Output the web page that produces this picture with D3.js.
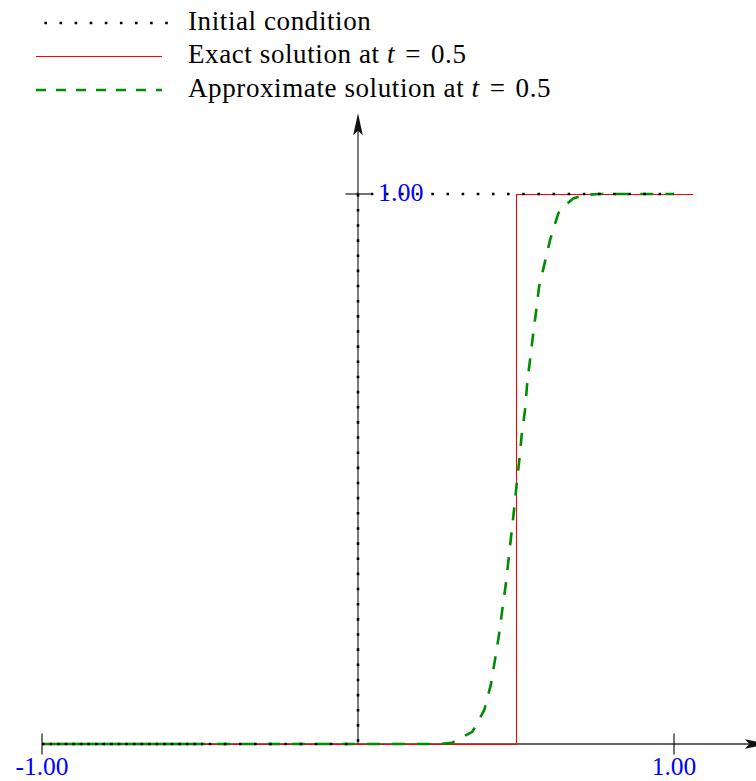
<!DOCTYPE html>
<html><head><meta charset="utf-8">
<script src="https://cdn.jsdelivr.net/npm/d3@7"></script>
<style>html,body{margin:0;padding:0;background:#fff}svg{display:block}</style>
</head><body>
<script>
// ---- data ----
const xTicks = [-1, 1];
const xTickLabels = ["-1.00", "1.00"];
const yTicks = [1];
const yTickLabels = ["1.00"];
const xAxisExtent = [-1, 1.294];
const yAxisExtent = [0, 1.147];

const initialX = [-1, 0, 0, 1];
const initialY = [0, 0, 1, 1];

const exactX = [-1, 0.5, 0.5, 1.06];
const exactY = [0, 0, 1, 1];

const approxX = [-1, 0.26, 0.2965, 0.3617, 0.3997, 0.420, 0.4335, 0.446, 0.4566, 0.4674, 0.476, 0.485, 0.4937, 0.502, 0.5104, 0.518, 0.5285, 0.5358, 0.5443, 0.5547, 0.5655, 0.5728, 0.5918, 0.6076, 0.6339, 0.6478, 0.6813, 0.713, 0.76, 1.0];
const approxY = [0, 0, 0.002, 0.022, 0.062, 0.107, 0.153, 0.198, 0.244, 0.289, 0.333, 0.380, 0.425, 0.471, 0.516, 0.562, 0.607, 0.658, 0.698, 0.747, 0.795, 0.831, 0.877, 0.916, 0.965, 0.976, 0.992, 0.998, 1, 1];

// region near the left boundary where the curves are drawn twice
const overlapX = [-1, -0.49];
const overlapY = [0, 0];

const legendLabels = [
  {text: "Initial condition", math: null},
  {text: "Exact solution at ", math: ["t", "=", "0.5"]},
  {text: "Approximate solution at ", math: ["t", "=", "0.5"]}
];

// ---- drawing ----
const W = 756, H = 781;
const svg = d3.select("body").append("svg").attr("width", W).attr("height", H);

const x = d3.scaleLinear().domain([-1, 1]).range([42, 674]);
const y = d3.scaleLinear().domain([0, 1]).range([744, 194]);

const zip = (a, b) => a.map((v, i) => [v, b[i]]);
const line = d3.line().x(d => x(d[0])).y(d => y(d[1]));

const axisColor = "#333";
// x axis
svg.append("line")
  .attr("x1", x(xAxisExtent[0])).attr("x2", x(xAxisExtent[1]) - 10)
  .attr("y1", y(0)).attr("y2", y(0))
  .attr("stroke", axisColor).attr("stroke-width", 1.3);
// y axis
svg.append("line")
  .attr("x1", x(0)).attr("x2", x(0))
  .attr("y1", y(yAxisExtent[0])).attr("y2", y(yAxisExtent[1]) + 10)
  .attr("stroke", axisColor).attr("stroke-width", 1.3);

const arrow = "M0,0 L-22,-4.8 L-17.5,0 L-22,4.8 Z";
svg.append("path").attr("d", arrow)
  .attr("transform", `translate(${x(xAxisExtent[1])},${y(0)})`)
  .attr("fill", "#111");
svg.append("path").attr("d", arrow)
  .attr("transform", `translate(${x(0)},${y(yAxisExtent[1])}) rotate(-90)`)
  .attr("fill", "#111");

// ticks
svg.selectAll(".xt").data(xTicks).enter().append("line")
  .attr("x1", d => x(d)).attr("x2", d => x(d))
  .attr("y1", y(0) - 10.5).attr("y2", y(0) + 10.5)
  .attr("stroke", "#000").attr("stroke-width", 1.1);
svg.selectAll(".yt").data(yTicks).enter().append("line")
  .attr("y1", d => y(d)).attr("y2", d => y(d))
  .attr("x1", x(0) - 12.5).attr("x2", x(0) + 12.5)
  .attr("stroke", "#000").attr("stroke-width", 1.1);

const labFont = "'Liberation Serif', 'Times New Roman', serif";
svg.selectAll(".xl").data(xTicks).enter().append("text")
  .attr("x", d => x(d)).attr("y", y(0) + 31)
  .attr("text-anchor", "middle")
  .attr("font-family", labFont).attr("font-size", 25.5)
  .attr("fill", "#0000ff")
  .text((d, i) => xTickLabels[i]);
svg.selectAll(".yl").data(yTicks).enter().append("text")
  .attr("x", x(0) + 20).attr("y", d => y(d) + 6.5)
  .attr("font-family", labFont).attr("font-size", 26)
  .attr("fill", "#0000ff")
  .text((d, i) => yTickLabels[i]);

// series
const green = "#008c00";
svg.append("path").datum(zip(exactX, exactY)).attr("d", line)
  .attr("fill", "none").attr("stroke", "#ff0000").attr("stroke-width", 1)
  .attr("shape-rendering", "crispEdges");

svg.append("path").datum(zip(approxX, approxY)).attr("d", line)
  .attr("fill", "none").attr("stroke", green).attr("stroke-width", 2.6)
  .attr("stroke-dasharray", "13,12");
svg.append("path").datum(zip(overlapX, overlapY)).attr("d", line)
  .attr("fill", "none").attr("stroke", green).attr("stroke-width", 2.6)
  .attr("stroke-dasharray", "13,12").attr("stroke-dashoffset", 12.5);

svg.append("path").datum(zip(initialX, initialY)).attr("d", line)
  .attr("fill", "none").attr("stroke", "#000").attr("stroke-width", 2.6)
  .attr("stroke-dasharray", "2.6,12.55");
svg.append("path").datum(zip(overlapX, overlapY)).attr("d", line)
  .attr("fill", "none").attr("stroke", "#000").attr("stroke-width", 2.6)
  .attr("stroke-dasharray", "2.6,12.55").attr("stroke-dashoffset", 7.6);

// legend
const legY = [23, 56, 90];
const lg = svg.append("g");
lg.append("line").attr("x1", 44.4).attr("x2", 168).attr("y1", legY[0]).attr("y2", legY[0])
  .attr("stroke", "#000").attr("stroke-width", 2.6).attr("stroke-dasharray", "2.6,12.5");
lg.append("line").attr("x1", 36).attr("x2", 162).attr("y1", legY[1]).attr("y2", legY[1])
  .attr("stroke", "#ff0000").attr("stroke-width", 1).attr("shape-rendering", "crispEdges");
lg.append("line").attr("x1", 36).attr("x2", 162).attr("y1", legY[2]).attr("y2", legY[2])
  .attr("stroke", green).attr("stroke-width", 2.6).attr("stroke-dasharray", "10,10");

legendLabels.forEach((l, i) => {
  const t = lg.append("text").attr("x", 188).attr("y", legY[i] + 7)
    .attr("font-family", labFont).attr("font-size", 27).attr("fill", "#000")
    .attr("letter-spacing", 0.6);
  t.append("tspan").text(l.text);
  if (l.math) {
    t.append("tspan").attr("font-style", "italic").text(l.math[0]);
    t.append("tspan").attr("dx", 10).text(l.math[1]);
    t.append("tspan").attr("dx", 10).text(l.math[2]);
  }
});
</script>
</body></html>
